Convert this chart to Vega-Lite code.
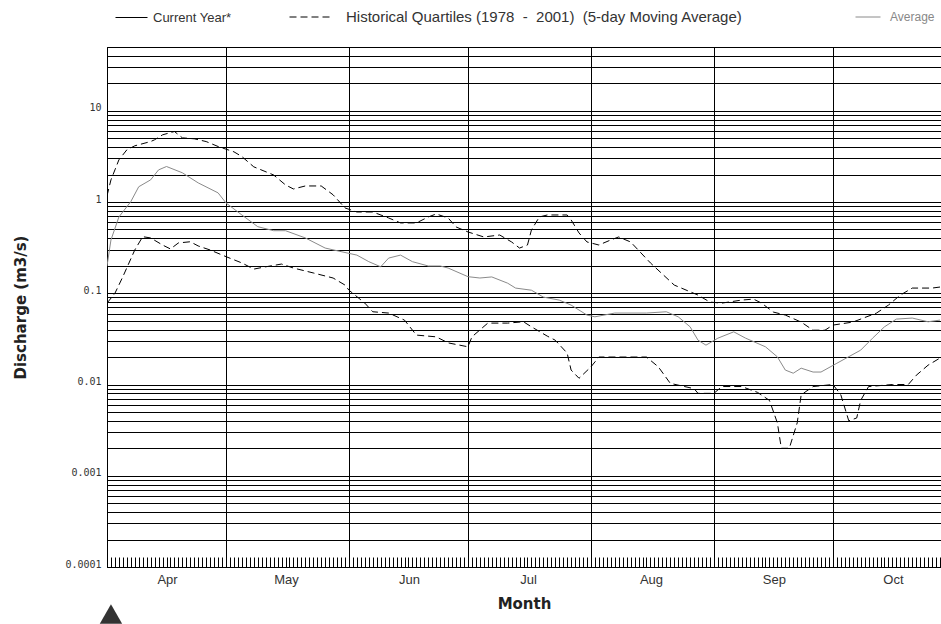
{
  "$schema": "https://vega.github.io/schema/vega-lite/v6.json",
  "width": 834,
  "height": 520,
  "autosize": {"type": "none"},
  "padding": {"left": 107, "top": 47, "right": 0, "bottom": 57},
  "background": "white",
  "config": {"view": {"stroke": "#000", "strokeWidth": 1}, "font": "Liberation Sans"},
  "datasets": {
    "average": [
      {"date": "2002-04-01", "value": 0.199}, {"date": "2002-04-02", "value": 0.384}, {"date": "2002-04-04", "value": 0.686},
      {"date": "2002-04-07", "value": 1.01}, {"date": "2002-04-09", "value": 1.47}, {"date": "2002-04-12", "value": 1.75},
      {"date": "2002-04-14", "value": 2.25}, {"date": "2002-04-16", "value": 2.45}, {"date": "2002-04-20", "value": 2.09},
      {"date": "2002-04-24", "value": 1.62}, {"date": "2002-04-29", "value": 1.26}, {"date": "2002-05-01", "value": 0.977},
      {"date": "2002-05-05", "value": 0.721}, {"date": "2002-05-09", "value": 0.537}, {"date": "2002-05-13", "value": 0.485},
      {"date": "2002-05-16", "value": 0.485}, {"date": "2002-05-21", "value": 0.404}, {"date": "2002-05-26", "value": 0.313},
      {"date": "2002-05-30", "value": 0.286}, {"date": "2002-06-03", "value": 0.262}, {"date": "2002-06-06", "value": 0.222},
      {"date": "2002-06-09", "value": 0.195}, {"date": "2002-06-11", "value": 0.243}, {"date": "2002-06-14", "value": 0.262},
      {"date": "2002-06-17", "value": 0.222}, {"date": "2002-06-21", "value": 0.199}, {"date": "2002-06-24", "value": 0.199},
      {"date": "2002-06-26", "value": 0.189}, {"date": "2002-07-01", "value": 0.152}, {"date": "2002-07-04", "value": 0.147},
      {"date": "2002-07-07", "value": 0.151}, {"date": "2002-07-11", "value": 0.129}, {"date": "2002-07-13", "value": 0.114},
      {"date": "2002-07-17", "value": 0.108}, {"date": "2002-07-20", "value": 0.0908}, {"date": "2002-07-24", "value": 0.0842},
      {"date": "2002-07-27", "value": 0.0742}, {"date": "2002-07-31", "value": 0.0577}, {"date": "2002-08-02", "value": 0.0552},
      {"date": "2002-08-07", "value": 0.0607}, {"date": "2002-08-15", "value": 0.0607}, {"date": "2002-08-20", "value": 0.0627},
      {"date": "2002-08-23", "value": 0.0552}, {"date": "2002-08-26", "value": 0.0429}, {"date": "2002-08-28", "value": 0.0306},
      {"date": "2002-08-30", "value": 0.027}, {"date": "2002-09-02", "value": 0.0322}, {"date": "2002-09-06", "value": 0.0378},
      {"date": "2002-09-09", "value": 0.0322}, {"date": "2002-09-14", "value": 0.0259}, {"date": "2002-09-17", "value": 0.0201},
      {"date": "2002-09-19", "value": 0.0144}, {"date": "2002-09-21", "value": 0.0133}, {"date": "2002-09-23", "value": 0.0151},
      {"date": "2002-09-26", "value": 0.0137}, {"date": "2002-09-28", "value": 0.0137}, {"date": "2002-10-02", "value": 0.0171},
      {"date": "2002-10-08", "value": 0.0238}, {"date": "2002-10-11", "value": 0.0322}, {"date": "2002-10-14", "value": 0.0429},
      {"date": "2002-10-17", "value": 0.0521}, {"date": "2002-10-21", "value": 0.0535}, {"date": "2002-10-25", "value": 0.0487},
      {"date": "2002-10-28", "value": 0.0508}
    ],
    "quartiles": [
      {"q": "upper", "date": "2002-04-01", "value": 1.17}, {"q": "upper", "date": "2002-04-02", "value": 1.75},
      {"q": "upper", "date": "2002-04-03", "value": 2.25}, {"q": "upper", "date": "2002-04-04", "value": 2.9},
      {"q": "upper", "date": "2002-04-06", "value": 3.73}, {"q": "upper", "date": "2002-04-08", "value": 4.13},
      {"q": "upper", "date": "2002-04-12", "value": 4.6}, {"q": "upper", "date": "2002-04-13", "value": 4.81},
      {"q": "upper", "date": "2002-04-15", "value": 5.45}, {"q": "upper", "date": "2002-04-18", "value": 5.93},
      {"q": "upper", "date": "2002-04-20", "value": 5.05}, {"q": "upper", "date": "2002-04-23", "value": 4.93},
      {"q": "upper", "date": "2002-04-26", "value": 4.6}, {"q": "upper", "date": "2002-04-29", "value": 4.06},
      {"q": "upper", "date": "2002-05-03", "value": 3.55}, {"q": "upper", "date": "2002-05-05", "value": 3.15},
      {"q": "upper", "date": "2002-05-08", "value": 2.43}, {"q": "upper", "date": "2002-05-13", "value": 1.98},
      {"q": "upper", "date": "2002-05-16", "value": 1.54}, {"q": "upper", "date": "2002-05-18", "value": 1.39},
      {"q": "upper", "date": "2002-05-21", "value": 1.5}, {"q": "upper", "date": "2002-05-25", "value": 1.5},
      {"q": "upper", "date": "2002-05-28", "value": 1.2}, {"q": "upper", "date": "2002-05-31", "value": 0.861},
      {"q": "upper", "date": "2002-06-03", "value": 0.778}, {"q": "upper", "date": "2002-06-07", "value": 0.778},
      {"q": "upper", "date": "2002-06-11", "value": 0.669}, {"q": "upper", "date": "2002-06-14", "value": 0.59},
      {"q": "upper", "date": "2002-06-18", "value": 0.59}, {"q": "upper", "date": "2002-06-21", "value": 0.686},
      {"q": "upper", "date": "2002-06-23", "value": 0.74}, {"q": "upper", "date": "2002-06-26", "value": 0.669},
      {"q": "upper", "date": "2002-06-28", "value": 0.533}, {"q": "upper", "date": "2002-07-01", "value": 0.47},
      {"q": "upper", "date": "2002-07-05", "value": 0.414}, {"q": "upper", "date": "2002-07-09", "value": 0.435},
      {"q": "upper", "date": "2002-07-12", "value": 0.365}, {"q": "upper", "date": "2002-07-14", "value": 0.313},
      {"q": "upper", "date": "2002-07-16", "value": 0.338}, {"q": "upper", "date": "2002-07-17", "value": 0.494},
      {"q": "upper", "date": "2002-07-19", "value": 0.686}, {"q": "upper", "date": "2002-07-21", "value": 0.721},
      {"q": "upper", "date": "2002-07-26", "value": 0.721}, {"q": "upper", "date": "2002-07-27", "value": 0.637},
      {"q": "upper", "date": "2002-07-29", "value": 0.458}, {"q": "upper", "date": "2002-07-31", "value": 0.365},
      {"q": "upper", "date": "2002-08-03", "value": 0.338}, {"q": "upper", "date": "2002-08-06", "value": 0.384},
      {"q": "upper", "date": "2002-08-08", "value": 0.414}, {"q": "upper", "date": "2002-08-11", "value": 0.365},
      {"q": "upper", "date": "2002-08-16", "value": 0.215}, {"q": "upper", "date": "2002-08-22", "value": 0.123},
      {"q": "upper", "date": "2002-08-28", "value": 0.0955}, {"q": "upper", "date": "2002-08-31", "value": 0.08},
      {"q": "upper", "date": "2002-09-03", "value": 0.078}, {"q": "upper", "date": "2002-09-08", "value": 0.0842},
      {"q": "upper", "date": "2002-09-11", "value": 0.0863}, {"q": "upper", "date": "2002-09-13", "value": 0.078},
      {"q": "upper", "date": "2002-09-16", "value": 0.0622}, {"q": "upper", "date": "2002-09-19", "value": 0.0577},
      {"q": "upper", "date": "2002-09-23", "value": 0.0483}, {"q": "upper", "date": "2002-09-26", "value": 0.0394},
      {"q": "upper", "date": "2002-09-29", "value": 0.0394}, {"q": "upper", "date": "2002-10-01", "value": 0.0448},
      {"q": "upper", "date": "2002-10-06", "value": 0.0483}, {"q": "upper", "date": "2002-10-12", "value": 0.0607},
      {"q": "upper", "date": "2002-10-15", "value": 0.0742}, {"q": "upper", "date": "2002-10-18", "value": 0.0955},
      {"q": "upper", "date": "2002-10-21", "value": 0.114}, {"q": "upper", "date": "2002-10-26", "value": 0.114},
      {"q": "upper", "date": "2002-10-28", "value": 0.117},
      {"q": "lower", "date": "2002-04-01", "value": 0.078}, {"q": "lower", "date": "2002-04-03", "value": 0.1},
      {"q": "lower", "date": "2002-04-05", "value": 0.152}, {"q": "lower", "date": "2002-04-08", "value": 0.298},
      {"q": "lower", "date": "2002-04-10", "value": 0.417}, {"q": "lower", "date": "2002-04-12", "value": 0.404},
      {"q": "lower", "date": "2002-04-15", "value": 0.338}, {"q": "lower", "date": "2002-04-17", "value": 0.306},
      {"q": "lower", "date": "2002-04-19", "value": 0.356}, {"q": "lower", "date": "2002-04-22", "value": 0.367},
      {"q": "lower", "date": "2002-04-24", "value": 0.33}, {"q": "lower", "date": "2002-04-27", "value": 0.298},
      {"q": "lower", "date": "2002-05-01", "value": 0.252}, {"q": "lower", "date": "2002-05-05", "value": 0.215},
      {"q": "lower", "date": "2002-05-08", "value": 0.184}, {"q": "lower", "date": "2002-05-11", "value": 0.195},
      {"q": "lower", "date": "2002-05-15", "value": 0.209}, {"q": "lower", "date": "2002-05-18", "value": 0.189},
      {"q": "lower", "date": "2002-05-23", "value": 0.167}, {"q": "lower", "date": "2002-05-28", "value": 0.147},
      {"q": "lower", "date": "2002-05-31", "value": 0.123}, {"q": "lower", "date": "2002-06-01", "value": 0.108},
      {"q": "lower", "date": "2002-06-05", "value": 0.078}, {"q": "lower", "date": "2002-06-07", "value": 0.0627},
      {"q": "lower", "date": "2002-06-11", "value": 0.0607}, {"q": "lower", "date": "2002-06-15", "value": 0.0508},
      {"q": "lower", "date": "2002-06-18", "value": 0.0348}, {"q": "lower", "date": "2002-06-23", "value": 0.0333},
      {"q": "lower", "date": "2002-06-26", "value": 0.0286}, {"q": "lower", "date": "2002-07-01", "value": 0.0259},
      {"q": "lower", "date": "2002-07-02", "value": 0.0333}, {"q": "lower", "date": "2002-07-06", "value": 0.0471},
      {"q": "lower", "date": "2002-07-11", "value": 0.0471}, {"q": "lower", "date": "2002-07-15", "value": 0.0487},
      {"q": "lower", "date": "2002-07-17", "value": 0.0429}, {"q": "lower", "date": "2002-07-21", "value": 0.0339},
      {"q": "lower", "date": "2002-07-23", "value": 0.0306}, {"q": "lower", "date": "2002-07-26", "value": 0.0221},
      {"q": "lower", "date": "2002-07-27", "value": 0.0144}, {"q": "lower", "date": "2002-07-29", "value": 0.0117},
      {"q": "lower", "date": "2002-08-01", "value": 0.0156}, {"q": "lower", "date": "2002-08-03", "value": 0.02},
      {"q": "lower", "date": "2002-08-15", "value": 0.02}, {"q": "lower", "date": "2002-08-18", "value": 0.0156},
      {"q": "lower", "date": "2002-08-21", "value": 0.0103}, {"q": "lower", "date": "2002-08-27", "value": 0.009},
      {"q": "lower", "date": "2002-08-28", "value": 0.008}, {"q": "lower", "date": "2002-09-01", "value": 0.008},
      {"q": "lower", "date": "2002-09-03", "value": 0.0095}, {"q": "lower", "date": "2002-09-08", "value": 0.0095},
      {"q": "lower", "date": "2002-09-12", "value": 0.0082}, {"q": "lower", "date": "2002-09-15", "value": 0.0067},
      {"q": "lower", "date": "2002-09-17", "value": 0.0038}, {"q": "lower", "date": "2002-09-18", "value": 0.002},
      {"q": "lower", "date": "2002-09-20", "value": 0.002}, {"q": "lower", "date": "2002-09-22", "value": 0.0038},
      {"q": "lower", "date": "2002-09-23", "value": 0.0077}, {"q": "lower", "date": "2002-09-26", "value": 0.0095},
      {"q": "lower", "date": "2002-10-01", "value": 0.01}, {"q": "lower", "date": "2002-10-03", "value": 0.0077},
      {"q": "lower", "date": "2002-10-05", "value": 0.004}, {"q": "lower", "date": "2002-10-07", "value": 0.0043},
      {"q": "lower", "date": "2002-10-08", "value": 0.0067}, {"q": "lower", "date": "2002-10-10", "value": 0.0095},
      {"q": "lower", "date": "2002-10-16", "value": 0.01}, {"q": "lower", "date": "2002-10-20", "value": 0.01},
      {"q": "lower", "date": "2002-10-22", "value": 0.0126}, {"q": "lower", "date": "2002-10-25", "value": 0.0163},
      {"q": "lower", "date": "2002-10-28", "value": 0.0195}
    ],
    "marker": [{"date": "2002-04-02", "value": 0.0000305}]
  },
  "layer": [
    {
      "data": {"name": "average"},
      "mark": {"type": "line", "strokeWidth": 1, "clip": true},
      "encoding": {
        "x": {
          "field": "date", "type": "temporal",
          "scale": {"type": "utc", "domain": [{"year": 2002, "month": 4, "date": 1, "utc": true}, {"year": 2002, "month": 10, "date": 28, "hours": 6, "utc": true}]},
          "axis": {
            "orient": "bottom", "tickCount": {"interval": "month", "step": 1},
            "grid": true, "gridColor": "#000", "gridOpacity": 1, "gridWidth": 1,
            "ticks": false, "tickSize": 0, "domain": false,
            "labelExpr": "utcFormat(datum.value, '%b')", "labelOffset": 60, "labelPadding": 6,
            "labelFont": "Liberation Sans", "labelFontSize": 13, "labelColor": "#333",
            "labelOverlap": false, "labelBound": false, "labelFlush": false,
            "title": "Month", "titleFont": "DejaVu Sans", "titleFontSize": 15, "titleFontWeight": "bold",
            "titleColor": "#222", "titlePadding": 10
          }
        },
        "y": {
          "field": "value", "type": "quantitative",
          "scale": {"type": "log", "domain": [0.0001, 50], "nice": false},
          "axis": {
            "values": [0.0001, 0.0002, 0.0003, 0.0004, 0.0005, 0.0006, 0.0007, 0.0008, 0.0009,
                       0.001, 0.002, 0.003, 0.004, 0.005, 0.006, 0.007, 0.008, 0.009,
                       0.01, 0.02, 0.03, 0.04, 0.05, 0.06, 0.07, 0.08, 0.09,
                       0.1, 0.2, 0.3, 0.4, 0.5, 0.6, 0.7, 0.8, 0.9,
                       1, 2, 3, 4, 5, 6, 7, 8, 9, 10, 20, 30, 40, 50],
            "grid": true, "gridColor": "#000", "gridOpacity": 1, "gridWidth": 1,
            "ticks": false, "tickSize": 0, "domain": false,
            "labelExpr": "abs(log(datum.value)/LN10 - round(log(datum.value)/LN10)) < 0.000001 ? format(datum.value, '~g') : ''",
            "labelFont": "DejaVu Sans Mono", "labelFontSize": 10, "labelColor": "#333",
            "labelPadding": 6, "labelBaseline": "alphabetic", "labelOverlap": false, "labelBound": false, "labelFlush": false,
            "title": "Discharge (m3/s)", "titleFont": "DejaVu Sans", "titleFontSize": 15, "titleFontWeight": "bold",
            "titleColor": "#222", "titleX": -87, "titleY": 260, "titleAlign": "center", "titleBaseline": "middle", "titleAngle": -90
          }
        },
        "color": {
          "datum": "Average", "type": "nominal",
          "scale": {"domain": ["Average"], "range": ["#8a8a8a"]},
          "legend": {
            "orient": "none", "legendX": 748, "legendY": -43, "title": null, "padding": 0,
            "symbolType": "stroke", "symbolSize": 625, "symbolStrokeWidth": 1,
            "labelFont": "Liberation Sans", "labelFontSize": 12, "labelColor": "#888", "labelOffset": 9, "labelLimit": 600
          }
        }
      }
    },
    {
      "data": {"name": "quartiles"},
      "mark": {"type": "line", "strokeWidth": 1, "color": "#000", "clip": true},
      "encoding": {
        "x": {
          "field": "date", "type": "temporal",
          "scale": {"type": "utc", "domain": [{"year": 2002, "month": 4, "date": 1, "utc": true}, {"year": 2002, "month": 10, "date": 28, "hours": 6, "utc": true}]},
          "axis": {
            "orient": "top", "offset": -520, "tickCount": {"interval": "day", "step": 1},
            "ticks": true, "tickSize": 10, "tickColor": "#000", "tickWidth": 1,
            "labels": false, "domain": false, "grid": false, "title": null
          }
        },
        "y": {
          "field": "value", "type": "quantitative",
          "scale": {"type": "log", "domain": [0.0001, 50], "nice": false}
        },
        "detail": {"field": "q", "type": "nominal"},
        "strokeDash": {
          "datum": "Historical Quartiles (1978\u00a0\u00a0-\u00a0\u00a02001)\u00a0\u00a0(5-day Moving Average)", "type": "nominal",
          "scale": {"domain": ["Historical Quartiles (1978\u00a0\u00a0-\u00a0\u00a02001)\u00a0\u00a0(5-day Moving Average)"], "range": [[7, 4]]},
          "legend": {
            "orient": "none", "legendX": 182, "legendY": -51, "title": null, "padding": 0,
            "symbolType": "stroke", "symbolSize": 1681, "symbolStrokeWidth": 1, "symbolStrokeColor": "#000",
            "labelFont": "Liberation Sans", "labelFontSize": 15, "labelColor": "#333", "labelOffset": 15, "labelLimit": 800
          }
        }
      }
    },
    {
      "data": {"values": []},
      "mark": {"type": "line", "strokeWidth": 1},
      "encoding": {
        "x": {"field": "date", "type": "temporal", "axis": null,
              "scale": {"type": "utc", "domain": [{"year": 2002, "month": 4, "date": 1, "utc": true}, {"year": 2002, "month": 10, "date": 28, "hours": 6, "utc": true}]}},
        "y": {"field": "value", "type": "quantitative", "scale": {"type": "log", "domain": [0.0001, 50], "nice": false}},
        "color": {
          "datum": "Current Year*", "type": "nominal",
          "scale": {"domain": ["Current Year*"], "range": ["#000"]},
          "legend": {
            "orient": "none", "legendX": 8, "legendY": -46, "title": null, "padding": 0,
            "symbolType": "stroke", "symbolSize": 1024, "symbolStrokeWidth": 1,
            "labelFont": "Liberation Sans", "labelFontSize": 13, "labelColor": "#333", "labelOffset": 5, "labelLimit": 600
          }
        }
      }
    },
    {
      "data": {"name": "marker"},
      "mark": {"type": "point", "shape": "triangle-up", "filled": true, "color": "#333", "opacity": 1, "size": 500, "clip": false},
      "encoding": {
        "x": {"field": "date", "type": "temporal", "axis": null,
              "scale": {"type": "utc", "domain": [{"year": 2002, "month": 4, "date": 1, "utc": true}, {"year": 2002, "month": 10, "date": 28, "hours": 6, "utc": true}]}},
        "y": {"field": "value", "type": "quantitative", "scale": {"type": "log", "domain": [0.0001, 50], "nice": false}}
      }
    }
  ],
  "resolve": {"scale": {"color": "independent"}, "axis": {"x": "independent"}, "legend": {"color": "independent"}}
}
